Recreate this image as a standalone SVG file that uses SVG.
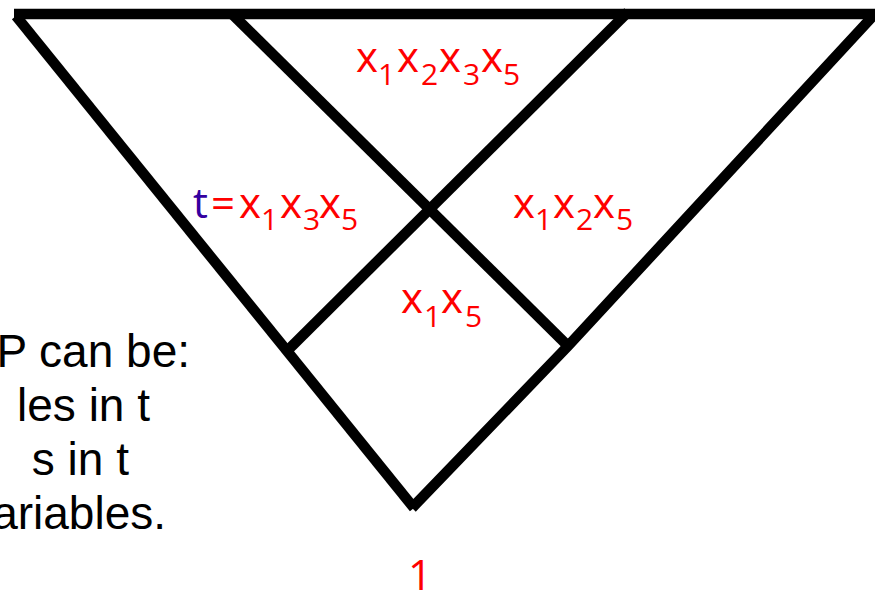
<svg xmlns="http://www.w3.org/2000/svg" width="875" height="592" viewBox="0 0 875 592">
<style>
.ln{fill:none;stroke:#000;stroke-width:10.5;stroke-linecap:butt;stroke-linejoin:miter}
.lbl{font-family:"Open Sans","Noto Sans",sans-serif;font-size:42px;fill:#FF0000}
.sub{font-size:30px}
.blk{font-family:"Liberation Sans",Arial,sans-serif;font-size:46px;fill:#000}
</style>
<rect width="875" height="592" fill="#fff"/>
<g id="connectors">
<line class="ln" x1="14" y1="14" x2="875" y2="14"/>
<line class="ln" x1="16" y1="16" x2="414" y2="508"/>
<polyline class="ln" points="873,16 568,346 412,508"/>
<line class="ln" x1="232" y1="14" x2="569" y2="347"/>
<line class="ln" x1="628" y1="12" x2="287" y2="351"/>
</g>
<g id="note">
<text class="blk" text-anchor="end" x="190" y="367">P can be:</text>
<text class="blk" text-anchor="end" x="150" y="421">les in t</text>
<text class="blk" text-anchor="end" x="129" y="475">s in t</text>
<text class="blk" text-anchor="end" x="166" y="529">ariables.</text>
</g>
<g id="top">
<text class="lbl"><tspan x="356" y="72">x</tspan><tspan class="sub" x="378" y="85">1</tspan><tspan x="397" y="72">x</tspan><tspan class="sub" x="421" y="85">2</tspan><tspan x="439" y="72">x</tspan><tspan class="sub" x="463" y="85">3</tspan><tspan x="481" y="72">x</tspan><tspan class="sub" x="503" y="85">5</tspan></text>
</g>
<g id="left">
<text class="lbl"><tspan x="193" y="218" fill="#3300A0">t</tspan><tspan x="211" y="218">=</tspan><tspan x="239" y="218">x</tspan><tspan class="sub" x="261" y="230">1</tspan><tspan x="280" y="218">x</tspan><tspan class="sub" x="303" y="230">3</tspan><tspan x="319" y="218">x</tspan><tspan class="sub" x="341" y="230">5</tspan></text>
</g>
<g id="right">
<text class="lbl"><tspan x="513" y="218">x</tspan><tspan class="sub" x="535" y="230">1</tspan><tspan x="553" y="218">x</tspan><tspan class="sub" x="576" y="230">2</tspan><tspan x="593" y="218">x</tspan><tspan class="sub" x="616" y="230">5</tspan></text>
</g>
<g id="middle">
<text class="lbl"><tspan x="401" y="313">x</tspan><tspan class="sub" x="424" y="327">1</tspan><tspan x="441" y="313">x</tspan><tspan class="sub" x="465" y="327">5</tspan></text>
</g>
<g id="bottom">
<text class="lbl" x="408" y="590">1</text>
</g>
</svg>
